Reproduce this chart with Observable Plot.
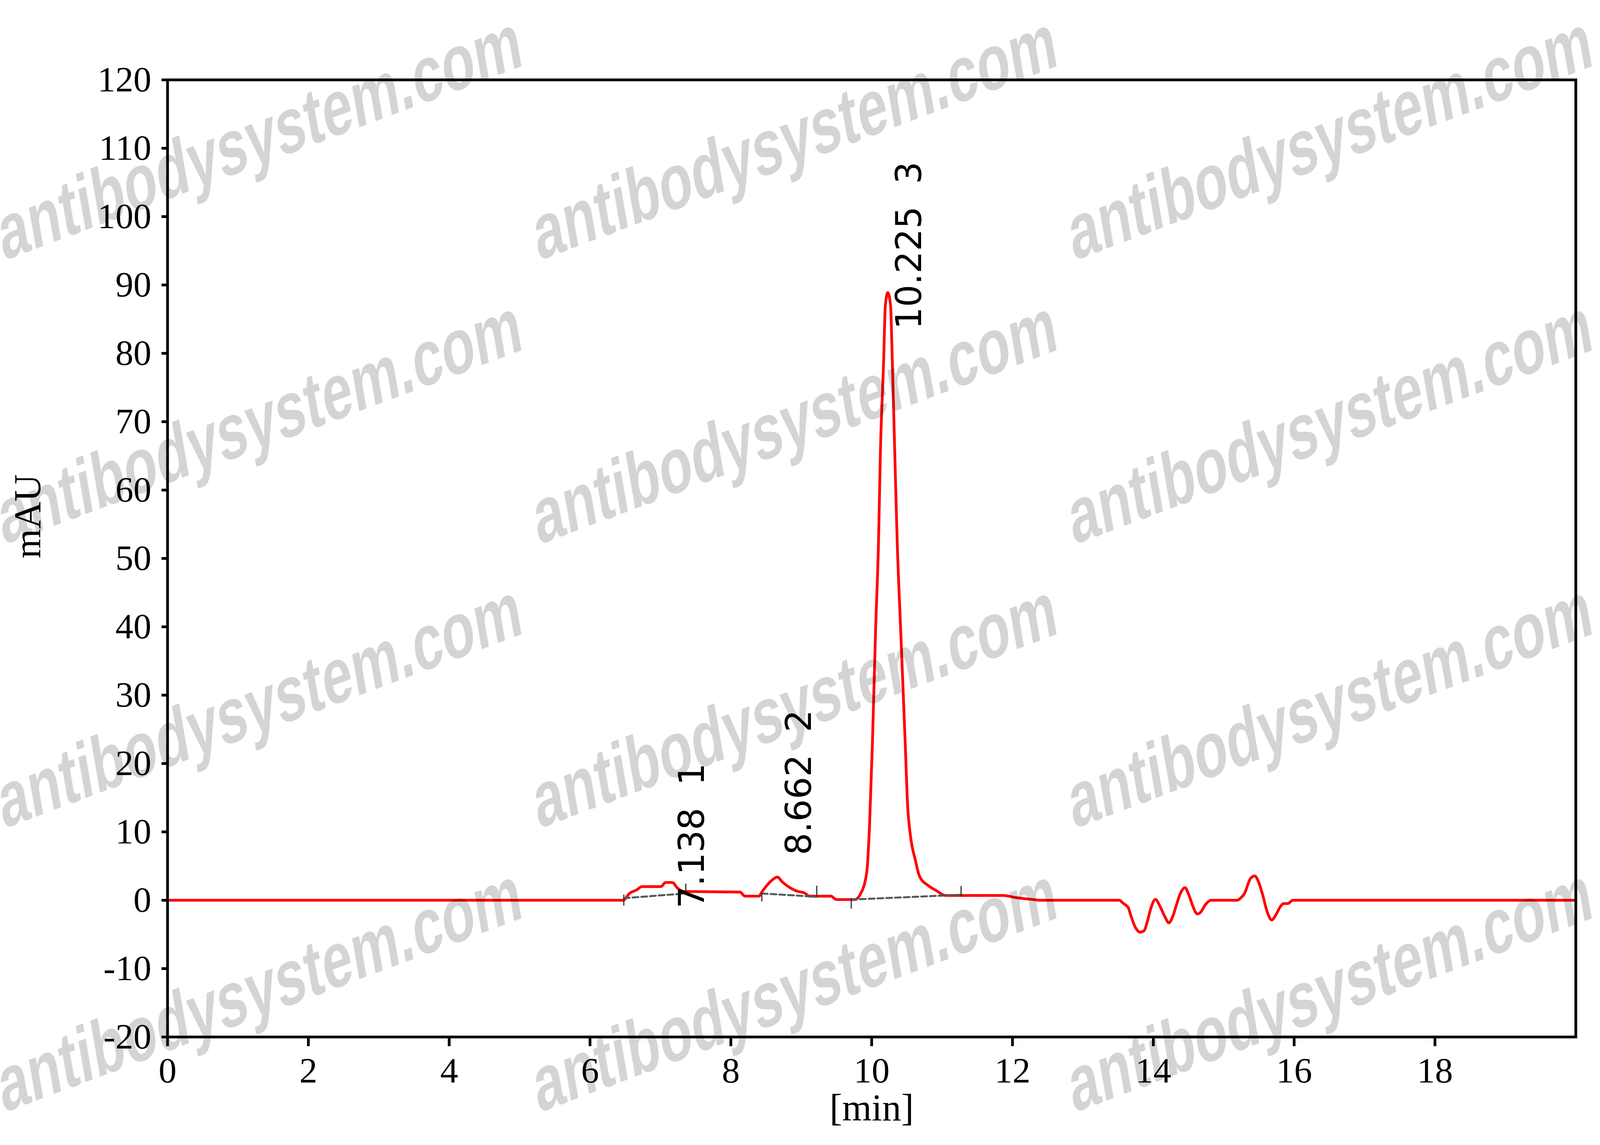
<!DOCTYPE html>
<html>
<head>
<meta charset="utf-8">
<script src="https://cdn.jsdelivr.net/npm/d3@7"></script>
<script src="https://cdn.jsdelivr.net/npm/@observablehq/plot@0.6"></script>
<style>
  html, body { margin: 0; padding: 0; background: #ffffff; overflow: hidden; width: 100%; height: 100%; }
  #wrap { position: relative; width: 100vw; height: 100vh; }
  #wrap > svg.plotsvg { display: block; max-width: none; }
  #wrap svg text { white-space: pre; }
  #wm { position: absolute; left: 0; top: 0; pointer-events: none; }
</style>
</head>
<body>
<div id="wrap"></div>
<script>
// ---- chromatogram trace (retention time [min], absorbance [mAU]) ----
const times = [0, 6.47, 6.56, 6.66, 6.74, 7.01, 7.07, 7.17, 7.24, 7.33, 8.13, 8.20, 8.40, 8.44, 8.58, 8.66, 8.73, 8.83, 8.95, 9.04, 9.12, 9.42, 9.50, 9.76, 9.84, 9.93, 9.97, 10.011, 10.055, 10.097, 10.124, 10.169, 10.194, 10.229, 10.269, 10.288, 10.328, 10.363, 10.413, 10.476, 10.51, 10.55, 10.62, 10.68, 10.81, 10.92, 11.05, 11.87, 12.04, 12.30, 12.40, 13.52, 13.56, 13.61, 13.64, 13.69, 13.75, 13.81, 13.87, 13.91, 13.97, 14.03, 14.10, 14.17, 14.22, 14.27, 14.33, 14.38, 14.45, 14.50, 14.56, 14.60, 14.63, 14.67, 14.74, 14.82, 15.19, 15.25, 15.29, 15.38, 15.44, 15.49, 15.55, 15.62, 15.68, 15.74, 15.80, 15.85, 15.91, 15.98, 20];
const values = [0, 0, 1.0, 1.5, 2.0, 2.0, 2.6, 2.6, 1.8, 1.3, 1.2, 0.6, 0.6, 1.2, 2.9, 3.4, 2.7, 1.9, 1.3, 1.1, 0.6, 0.6, 0.1, 0.1, 0.9, 4.1, 11, 23.1, 39.3, 52.3, 65.5, 78.6, 86.9, 88.9, 86.9, 80.8, 65.5, 52.3, 39.3, 23.1, 14, 9.5, 5.9, 3.5, 2.1, 1.4, 0.7, 0.7, 0.4, 0.1, 0, 0, -0.34, -0.72, -1.0, -2.53, -4.06, -4.67, -4.44, -3.3, -1.0, 0.13, -1.0, -2.53, -3.3, -2.53, -0.63, 0.9, 1.85, 0.9, -0.82, -1.77, -2.0, -1.77, -0.63, 0, 0, 0.42, 0.9, 3.18, 3.56, 2.8, 0.9, -1.77, -2.88, -2.15, -1.0, -0.48, -0.48, 0, 0];

// ---- integration baselines (dashed) ----
const baseTimes = [6.48, 7.36, 8.44, 9.22, 9.71, 11.27];
const baseValues = [0.3, 1.0, 1.0, 0.5, 0.1, 0.8];
const basePeak = [1, 1, 2, 2, 3, 3];

// ---- integration start / end markers ----
const markTimes = [6.48, 7.36, 8.44, 9.22, 9.71, 11.27];
const markLow = [-0.8, 0.9, -0.2, 0.5, -1.26, 0.5];
const markHigh = [0.8, 2.4, 1.1, 2.1, 0.3, 2.06];

// ---- peak annotations ----
const peakTimes = [7.138, 8.662, 10.225];
const peakLabels = ["7.138  1", "8.662  2", "10.225  3"];
const peakLabelStart = [-1.2, 6.6, 83.5];

// ---- axes ----
const xTicks = [0, 2, 4, 6, 8, 10, 12, 14, 16, 18];
const yTicks = [-20, -10, 0, 10, 20, 30, 40, 50, 60, 70, 80, 90, 100, 110, 120];
const xTitle = "[min]";
const yTitle = "mAU";
const watermark = "antibodysystem.com";

const trace = times.map((t, i) => ({t, v: values[i]}));
const baselines = baseTimes.map((t, i) => ({t, v: baseValues[i], peak: basePeak[i]}));
const marks = markTimes.map((t, i) => ({t, lo: markLow[i], hi: markHigh[i]}));
const peaks = peakTimes.map((t, i) => ({t, label: peakLabels[i], y: peakLabelStart[i]}));

// layout designed on a 6033 x 2931 canvas, mapped onto the actual viewport
const W0 = 6033, H0 = 2931;
const VW = window.innerWidth || W0;
const VH = window.innerHeight || H0;
const sx = VW / W0, sy = VH / H0;

const chart = Plot.plot({
  width: VW,
  height: VH,
  marginLeft: 631 * sx,
  marginRight: 92 * sx,
  marginTop: 204 * sy,
  marginBottom: 277 * sy,
  style: {fontFamily: "'Liberation Serif', 'Times New Roman', serif", fontSize: `${92 * sy}px`, background: "white", color: "black"},
  x: {domain: [0, 20]},
  y: {domain: [-20, 120]},
  marks: [
    Plot.line(trace, {x: "t", y: "v", stroke: "#ff0000", strokeWidth: 7 * sy, curve: "monotone-x"}),
    Plot.line(baselines, {x: "t", y: "v", z: "peak", stroke: "#4f5a5a", strokeWidth: 5 * sy, strokeDasharray: `${22 * sx},${11 * sx}`}),
    Plot.ruleX(marks, {x: "t", y1: "lo", y2: "hi", stroke: "#333333", strokeWidth: 3 * sy}),
    Plot.text(peaks, {x: "t", y: "y", text: "label", rotate: -90, textAnchor: "start", lineAnchor: "bottom",
      dx: 28 * sx + 67 * sy, fontFamily: "'DejaVu Sans', sans-serif", fontSize: 90 * sy, fill: "black"}),
    Plot.frame({stroke: "black", strokeWidth: 7 * sy}),
    Plot.axisX({ticks: xTicks, tickSize: 24 * sy, tickPadding: 27 * sy, strokeWidth: 7 * sy, label: null, tickFormat: d => String(d), fontSize: 92 * sy}),
    Plot.axisY({ticks: yTicks, tickSize: 22 * sx, tickPadding: 39 * sx, strokeWidth: 7 * sy, label: null, tickFormat: d => String(d), fontSize: 92 * sy}),
    Plot.text([xTitle], {frameAnchor: "bottom", text: d => d, lineAnchor: "bottom", dy: 213 * sy, fontSize: 97 * sy, fill: "black"}),
    Plot.text([yTitle], {frameAnchor: "left", text: d => d, rotate: -90, textAnchor: "start", lineAnchor: "bottom", dx: -480 * sx, fontSize: 97 * sy, fill: "black"})
  ]
});
chart.classList.add("plotsvg");
document.getElementById("wrap").appendChild(chart);

// ---- watermark overlay (same geometry as the reference canvas, mapped to the viewport) ----
const wm = d3.select("#wrap").append("svg")
  .attr("id", "wm").attr("width", VW).attr("height", VH);
const wmG = wm.append("g").attr("transform", `scale(${sx},${sy})`);
const wmCols = [12, 2030, 4048];
const wmRows = [668, 1395, 2122, 2849];
for (const y of wmRows) {
  for (const x of wmCols) {
    wmG.append("text")
      .attr("transform", `translate(${x},${y}) rotate(-14.3)`)
      .attr("font-family", "'Liberation Sans', Arial, sans-serif")
      .attr("font-weight", "bold")
      .attr("font-size", 204)
      .attr("fill", "#000")
      .attr("fill-opacity", 0.17)
      .text(watermark);
  }
}
</script>
</body>
</html>
